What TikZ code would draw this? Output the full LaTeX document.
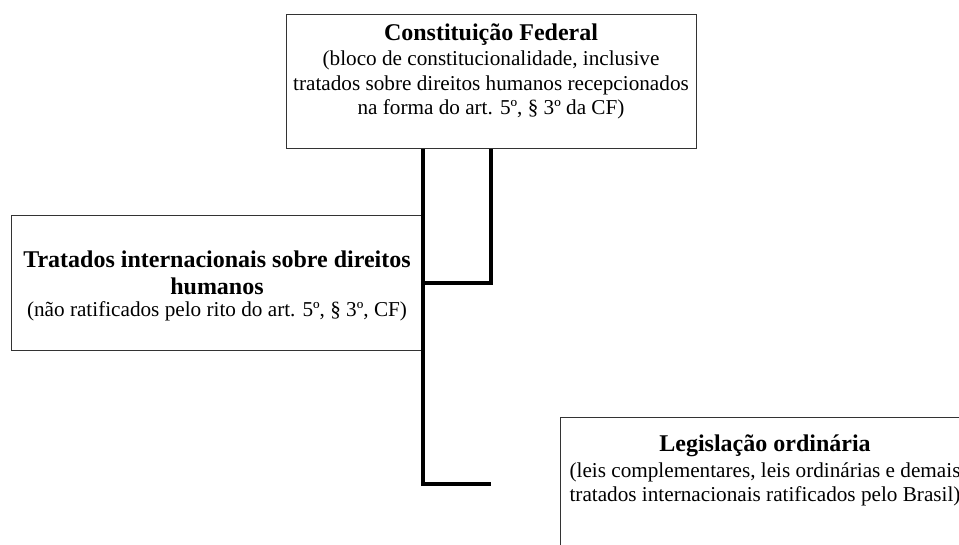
\documentclass[tikz,border=0pt]{standalone}
\usepackage{fontspec}
\setmainfont{Liberation Serif}
\usetikzlibrary{positioning}

\begin{document}
\begin{tikzpicture}[x=0.75pt,y=-0.75pt,
  box/.style={draw=black!80,line width=0.75pt,minimum width=307.5pt,minimum height=100.5pt,inner sep=0pt},
  ttl/.style={font=\fontsize{18}{20.25}\selectfont\bfseries,align=center,inner sep=0pt},
  txt/.style={font=\fontsize{15.9}{18.4}\selectfont,align=center,inner sep=0pt},
  conn/.style={line width=3pt,black}]
\useasboundingbox (0,0) rectangle (959,545);
\clip (0,0) rectangle (959,545);
\node at (491,82)[box] (cf) {};
\node at (217,283)[box,minimum width=308.25pt] (tdh) {};
\node at (765,484)[box] (leg) {};
\node at ([yshift=-19.6pt]cf.north)[ttl,anchor=base] (cfttl) {Constituição Federal};
\node[txt,below=27pt of cf.north] (cftxt) {(bloco de constitucionalidade, inclusive\\
  tratados sobre direitos humanos recepcionados\\
  na forma do art. 5º, § 3º da CF)};
\node[ttl,below=26.6pt of tdh.north] (tdhttl) {Tratados internacionais sobre direitos\\humanos};
\node[txt,below=64.2pt of tdh.north] (tdhtxt) {(não ratificados pelo rito do art. 5º, § 3º, CF)};
\node at ([yshift=-26pt]leg.north)[ttl,anchor=base] (legttl) {Legislação ordinária};
\node[txt,below=34.3pt of leg.north] (legtxt) {(leis complementares, leis ordinárias e demais\\
  tratados internacionais ratificados pelo Brasil)};
\coordinate (legtip) at (cf.south |- leg.west);
\draw[conn] (cf.south) |- (tdh.east);
\draw[conn] (cf.south -| tdh.east) |- (legtip);
\end{tikzpicture}
\end{document}
